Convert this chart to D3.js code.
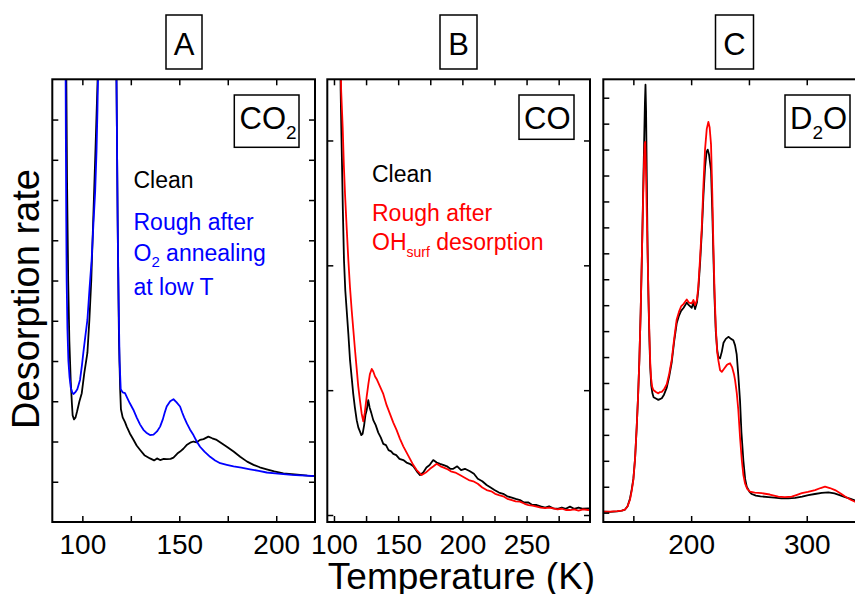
<!DOCTYPE html>
<html>
<head>
<meta charset="utf-8">
<script src="https://d3js.org/d3.v7.min.js"></script>
<style>
body { margin: 0; background: #fff; }
text { font-family: "Liberation Sans", Arial, sans-serif; }
</style>
</head>
<body>
<svg id="chart" width="855" height="594"></svg>
<script>
// tick values and labels (temperature in K, desorption rate in arb. units)
var tempTicksA = [100, 125, 150, 175, 200],
    tempLabelsA = [100, 150, 200],
    tempTicksB = [100, 125, 150, 175, 200, 225, 250, 275],
    tempLabelsB = [100, 150, 200, 250],
    tempTicksC = [150, 200, 250, 300],
    tempLabelsC = [200, 300];
var rateTicksA = [1, 2, 3, 4, 5, 6, 7, 8, 9, 10],
    rateTicksB = [0, 1, 2, 3],
    rateTicksC = [0, 1, 2, 3, 4, 5, 6, 7, 8, 9, 10, 11, 12, 13, 14, 15, 16];

// A: CO2, [T, rate]
var co2Clean = [[91.6,12],[92.1,8.5],[92.7,6.0],[93.3,4.5],[94.0,3.5],[94.6,2.95],[95.0,2.65],[95.7,2.55],[96.5,2.6],[97.3,2.75],[98.5,3.0],[99.7,3.2],[101,3.7],[102.6,4.2],[103.6,5.0],[104.6,6.0],[105.6,7.5],[106.8,9.3],[108.0,11.2],[109.5,16],[113,30],[116.8,16],[117.6,11],[118.3,7.0],[118.9,4.5],[119.5,3.3],[119.9,2.8],[120.8,2.6],[122.0,2.48],[122.9,2.37],[124.5,2.2],[126.3,2.05],[128,1.9],[129.8,1.79],[132,1.66],[134.9,1.58],[137,1.53],[138.5,1.58],[140.1,1.54],[142,1.57],[143.5,1.56],[145.5,1.57],[147,1.6],[149,1.7],[150.4,1.75],[152.1,1.82],[154,1.92],[156,1.98],[157.3,2.0],[159,1.98],[160.7,2.04],[162.5,2.06],[165,2.12],[167,2.08],[169.3,2.04],[172,1.95],[174.5,1.87],[178,1.75],[181.4,1.62],[185,1.5],[188.3,1.42],[191.5,1.36],[195.1,1.31],[199,1.26],[203.7,1.21],[208,1.19],[212.3,1.17],[216,1.15],[220.1,1.14]];
var co2Rough = [[91.3,12],[91.5,9.5],[91.7,7.5],[91.9,6.0],[92.3,4.8],[92.8,4.0],[93.4,3.6],[94.0,3.35],[94.8,3.22],[95.4,3.18],[96.3,3.22],[97.4,3.3],[98.8,3.53],[99.8,3.9],[100.5,4.2],[101.5,4.6],[102.6,5.02],[103.7,5.8],[104.8,6.52],[105.7,7.4],[106.6,8.2],[107.3,9.2],[107.8,10.25],[108.4,12],[109.5,16],[113,30],[117,16],[117.6,11],[118.2,7.5],[118.7,5.5],[119.2,4.0],[119.8,3.3],[120.8,3.22],[122.0,3.2],[123.2,3.08],[124.5,2.95],[126.3,2.79],[128,2.6],[129.8,2.42],[131.5,2.29],[133,2.22],[134.9,2.16],[136.7,2.17],[138.5,2.25],[140.1,2.37],[141.5,2.55],[142.5,2.72],[143.5,2.87],[145.3,3.0],[147.0,3.05],[148.5,2.98],[150.4,2.87],[151.5,2.72],[152.5,2.6],[153.9,2.45],[155.5,2.3],[157.3,2.16],[159,2.0],[160.7,1.87],[163,1.75],[165.9,1.62],[168.5,1.53],[171.1,1.46],[174.5,1.42],[178,1.38],[182,1.35],[186.5,1.31],[191,1.27],[195.1,1.23],[199.5,1.21],[203.7,1.19],[208,1.17],[212.3,1.16],[216,1.15],[220.1,1.14]];

// B: CO
var coClean = [[104.8,3.8],[105.2,3.4],[105.7,3.1],[106.2,2.84],[106.9,2.45],[107.8,2.04],[108.8,1.8],[109.9,1.64],[111.2,1.45],[112.5,1.24],[113.8,1.1],[115,0.97],[116.3,0.86],[117.7,0.76],[119,0.7],[120.2,0.67],[121.3,0.64],[122.3,0.65],[123.5,0.72],[124.5,0.8],[125.5,0.84],[126.7,0.92],[127.8,0.86],[129,0.82],[130.6,0.76],[132.5,0.72],[134.5,0.66],[136.5,0.62],[138.4,0.57],[140.5,0.56],[142.5,0.52],[144.5,0.51],[146.2,0.49],[148.5,0.48],[151,0.45],[154,0.44],[156.5,0.42],[159,0.41],[161.8,0.39],[164.5,0.35],[167,0.32],[169.5,0.34],[172,0.38],[174.5,0.4],[177.3,0.44],[180,0.42],[182.6,0.41],[185.5,0.4],[188,0.39],[190.5,0.37],[192.9,0.37],[196,0.39],[199,0.36],[202,0.37],[205.9,0.35],[209,0.33],[212,0.29],[215.5,0.27],[218.9,0.24],[222,0.22],[225,0.2],[228.5,0.18],[231.8,0.17],[235,0.15],[238.5,0.14],[241.5,0.13],[244.9,0.12],[248,0.1],[251.5,0.1],[254.5,0.08],[257.9,0.08],[261,0.07],[264.5,0.06],[267.5,0.07],[270.8,0.053],[274,0.05],[277.5,0.06],[280.5,0.05],[283.8,0.067],[287,0.05],[290.5,0.06],[294,0.05],[298,0.053],[300,0.05]];
var coRough = [[105.0,3.8],[105.6,3.4],[106.2,3.25],[106.8,3.1],[107.7,2.8],[108.6,2.57],[109.9,2.3],[111.2,2.04],[112.5,1.82],[113.8,1.64],[115.1,1.48],[116.4,1.32],[117.7,1.17],[118.9,1.03],[120.2,0.92],[121.6,0.81],[122.8,0.75],[124,0.82],[125.5,0.95],[126.8,1.05],[128,1.13],[129.4,1.17],[130.6,1.15],[132,1.11],[133.2,1.09],[135.8,1.03],[138.4,0.97],[141,0.88],[143.6,0.81],[146.2,0.74],[148.8,0.68],[151.4,0.61],[154,0.55],[156.6,0.5],[159.2,0.45],[161.8,0.4],[164.4,0.36],[168.3,0.32],[171.5,0.34],[174.8,0.37],[177.5,0.39],[180,0.41],[183,0.39],[185.5,0.38],[187.8,0.37],[191,0.35],[194.5,0.34],[198.1,0.32],[201.5,0.3],[205,0.28],[208.5,0.27],[212,0.25],[215.5,0.22],[218.9,0.2],[222.5,0.19],[225.5,0.17],[228.5,0.16],[231.8,0.15],[235,0.13],[238.5,0.12],[241.5,0.11],[244.9,0.107],[248.5,0.09],[251.5,0.08],[254.5,0.075],[257.9,0.067],[261,0.06],[264.5,0.055],[267.5,0.06],[270.8,0.053],[274,0.045],[277.5,0.05],[280.5,0.04],[283.8,0.04],[287,0.045],[290.5,0.035],[294,0.045],[298,0.04],[300,0.045]];

// C: D2O
var d2oClean = [[124,0.04],[130,0.03],[136,0.05],[140,0.08],[142.8,0.12],[145,0.25],[147.1,0.55],[148.6,0.9],[150,1.3],[151.5,2.1],[152.9,3.3],[154.1,4.5],[155.2,5.9],[156.3,7.7],[157.3,9.7],[158.3,12],[159.2,14],[160,15.8],[160.5,16.5],[161,15.5],[161.6,13],[162.3,10.3],[163,8.4],[163.8,6.8],[164.6,5.6],[165.5,4.9],[166.5,4.6],[167.5,4.45],[169.5,4.4],[171.6,4.35],[173,4.38],[174.6,4.41],[176.5,4.55],[178.9,4.82],[181,5.25],[183.2,5.8],[185.3,6.6],[187.5,7.3],[189.5,7.6],[191.3,7.78],[193.5,7.9],[196.2,8.1],[198,8.0],[200.5,7.9],[202,8.1],[203.4,7.85],[205,8.1],[206.2,8.6],[207.7,9.6],[209.2,10.8],[210.6,12.2],[212,13.3],[213.3,13.9],[214.3,14.0],[215.5,13.8],[217.2,13.2],[218.3,11.6],[219.2,10.0],[220.2,8.3],[221.3,7.0],[222.5,6.3],[223.5,6.0],[225,5.95],[226.5,6.2],[228,6.55],[230,6.7],[232.2,6.78],[234.5,6.7],[236.5,6.65],[238,6.45],[239.4,6.1],[240.8,5.3],[242.3,4.3],[243.5,3.1],[245.2,2.0],[246.7,1.3],[248.1,1.0],[250.5,0.8],[252.4,0.72],[256,0.66],[260,0.63],[266.8,0.6],[272,0.58],[278,0.55],[284.1,0.55],[290,0.57],[296,0.62],[301.4,0.68],[307,0.72],[313,0.76],[318.7,0.78],[324,0.74],[329,0.67],[333.2,0.6],[338,0.53],[342,0.47],[346,0.42],[350,0.38]];
var d2oRough = [[124,0.04],[130,0.04],[136,0.06],[140,0.08],[142.8,0.12],[145,0.25],[147.1,0.5],[148.6,0.85],[150,1.26],[151.5,2.1],[152.9,3.31],[154.1,4.5],[155.2,5.88],[156.3,7.7],[157.3,9.74],[158.3,11.8],[159.2,13.5],[159.8,14.2],[160.3,14.3],[160.9,13.2],[161.5,11.8],[162.1,10.5],[163,8.5],[163.8,7.0],[164.6,5.8],[165.3,5.2],[166.3,4.85],[167.3,4.73],[169.5,4.65],[171.6,4.6],[173,4.65],[174.6,4.66],[176.5,4.75],[178.9,4.95],[181,5.35],[183.2,5.9],[185.3,6.7],[187.5,7.45],[189.5,7.75],[191.3,7.95],[193.5,8.05],[196.2,8.22],[198,8.1],[200.5,8.07],[202,8.2],[203.4,8.0],[205,8.2],[206.2,8.72],[207.7,9.8],[209.2,11.0],[210.6,12.6],[212,14.0],[213.5,14.8],[214.9,15.07],[216,14.85],[217.2,14.2],[218.3,12.3],[219.2,10.4],[220.2,8.6],[221.3,7.17],[222.5,6.2],[223.5,5.88],[225,5.5],[226.5,5.43],[228.5,5.55],[230.8,5.69],[232.5,5.74],[233.7,5.76],[235.5,5.6],[237,5.35],[238,5.11],[239.5,4.6],[240.8,3.96],[242.3,2.9],[243.8,2.03],[245.2,1.45],[246.6,1.13],[248.5,0.92],[250.9,0.81],[255,0.77],[261.1,0.75],[268,0.7],[275.4,0.62],[281,0.6],[287,0.62],[291,0.68],[295.7,0.75],[301,0.8],[307.2,0.87],[312,0.95],[315.8,1.0],[320,0.95],[324.5,0.87],[329,0.75],[333.2,0.62],[338,0.5],[341.8,0.42],[346,0.36],[350,0.32]];

var plotTop = 79.3, plotBottom = 522;
var svg = d3.select("#chart");

var panels = [
  {name: "A", left: 52.3, right: 315, tDom: [84.5, 220], rDom: [0, 11],
   tTicks: tempTicksA, tLabels: tempLabelsA, rTicks: rateTicksA,
   series: [{data: co2Clean, color: "#000"}, {data: co2Rough, color: "#0000ff"}]},
  {name: "B", left: 327.3, right: 590, tDom: [94.8, 299.4], rDom: [-0.056, 3.49],
   tTicks: tempTicksB, tLabels: tempLabelsB, rTicks: rateTicksB,
   series: [{data: coClean, color: "#000"}, {data: coRough, color: "#ff0000"}]},
  {name: "C", left: 603.3, right: 865, tDom: [124, 350.4], rDom: [-0.36, 16.71],
   tTicks: tempTicksC, tLabels: tempLabelsC, rTicks: rateTicksC,
   series: [{data: d2oClean, color: "#000"}, {data: d2oRough, color: "#ff0000"}]}
];

function styleAxis(sel, size) {
  sel.select(".domain").remove();
  sel.selectAll(".tick line").attr("stroke", "#000").attr("stroke-width", 1.5);
  sel.selectAll(".tick text").attr("font-family", "'Liberation Sans', Arial, sans-serif")
    .attr("font-size", size).attr("fill", "#000");
}

panels.forEach(function(p) {
  var x = d3.scaleLinear().domain(p.tDom).range([p.left, p.right]);
  var y = d3.scaleLinear().domain(p.rDom).range([plotBottom, plotTop]);
  var g = svg.append("g");

  g.append("clipPath").attr("id", "clip" + p.name)
    .append("rect")
    .attr("x", p.left).attr("y", plotTop)
    .attr("width", p.right - p.left).attr("height", plotBottom - plotTop);

  var line = d3.line()
    .x(function(d) { return x(d[0]); })
    .y(function(d) { return y(d[1]); });

  p.series.forEach(function(s) {
    g.append("path")
      .datum(s.data)
      .attr("clip-path", "url(#clip" + p.name + ")")
      .attr("fill", "none")
      .attr("stroke", s.color)
      .attr("stroke-width", 1.8)
      .attr("stroke-linejoin", "round")
      .attr("d", line);
  });

  var fmt = function(d) { return p.tLabels.indexOf(d) >= 0 ? d : ""; };
  g.append("g").attr("transform", "translate(0," + plotBottom + ")")
    .call(d3.axisBottom(x).tickValues(p.tTicks).tickSize(-6).tickPadding(12).tickFormat(fmt))
    .call(styleAxis, 28);
  g.append("g").attr("transform", "translate(0," + plotTop + ")")
    .call(d3.axisTop(x).tickValues(p.tTicks).tickSize(-6).tickFormat(""))
    .call(styleAxis, 10);
  g.append("g").attr("transform", "translate(" + p.left + ",0)")
    .call(d3.axisLeft(y).tickValues(p.rTicks).tickSize(-6).tickFormat(""))
    .call(styleAxis, 10);
  g.append("g").attr("transform", "translate(" + p.right + ",0)")
    .call(d3.axisRight(y).tickValues(p.rTicks).tickSize(-6).tickFormat(""))
    .call(styleAxis, 10);

  g.append("rect")
    .attr("x", p.left).attr("y", plotTop)
    .attr("width", p.right - p.left).attr("height", plotBottom - plotTop)
    .attr("fill", "none").attr("stroke", "#000").attr("stroke-width", 2);
});

// panel letters
[["A", 166, 36], ["B", 440, 37], ["C", 715.5, 38]].forEach(function(b) {
  svg.append("rect").attr("x", b[1]).attr("y", 15).attr("width", b[2]).attr("height", 54)
    .attr("fill", "none").attr("stroke", "#000").attr("stroke-width", 1.5);
  svg.append("text").attr("x", b[1] + b[2] / 2).attr("y", 55)
    .attr("text-anchor", "middle").attr("font-size", 31).text(b[0]);
});

// species boxes
function box(x, y, w, h) {
  svg.append("rect").attr("x", x).attr("y", y).attr("width", w).attr("height", h)
    .attr("fill", "#fff").attr("stroke", "#000").attr("stroke-width", 1.5);
}
box(234.3, 95, 64.7, 52.3);
var t = svg.append("text").attr("x", 239.5).attr("y", 128.5).attr("font-size", 31);
t.append("tspan").text("CO");
t.append("tspan").attr("font-size", 19).attr("dy", 10).text("2");

box(519, 95, 55, 44.3);
svg.append("text").attr("x", 524).attr("y", 128.5).attr("font-size", 31).text("CO");

box(785, 95, 65, 52.3);
t = svg.append("text").attr("x", 790).attr("y", 128.5).attr("font-size", 31);
t.append("tspan").text("D");
t.append("tspan").attr("font-size", 19).attr("dy", 10).text("2");
t.append("tspan").attr("dy", -10).text("O");

// panel A notes
svg.append("text").attr("x", 133.5).attr("y", 188.3).attr("font-size", 23).text("Clean");
svg.append("text").attr("x", 133.5).attr("y", 230).attr("font-size", 23).attr("fill", "#0000ff").text("Rough after");
t = svg.append("text").attr("x", 133.5).attr("y", 261).attr("font-size", 23).attr("fill", "#0000ff");
t.append("tspan").text("O");
t.append("tspan").attr("font-size", 15).attr("dy", 6).text("2");
t.append("tspan").attr("dy", -6).text(" annealing");
svg.append("text").attr("x", 133.5).attr("y", 295).attr("font-size", 23).attr("fill", "#0000ff").text("at low T");

// panel B notes
svg.append("text").attr("x", 372).attr("y", 181.7).attr("font-size", 23).text("Clean");
svg.append("text").attr("x", 372).attr("y", 220.7).attr("font-size", 23).attr("fill", "#ff0000").text("Rough after");
t = svg.append("text").attr("x", 372).attr("y", 250).attr("font-size", 23).attr("fill", "#ff0000");
t.append("tspan").text("OH");
t.append("tspan").attr("font-size", 14).attr("dy", 7).text("surf");
t.append("tspan").attr("dy", -7).text(" desorption");

// axis titles
svg.append("text").attr("x", 461.5).attr("y", 589).attr("text-anchor", "middle")
  .attr("font-size", 37).text("Temperature (K)");
svg.append("text").attr("transform", "translate(39,299) rotate(-90)")
  .attr("text-anchor", "middle").attr("font-size", 38).text("Desorption rate");
</script>
</body>
</html>
